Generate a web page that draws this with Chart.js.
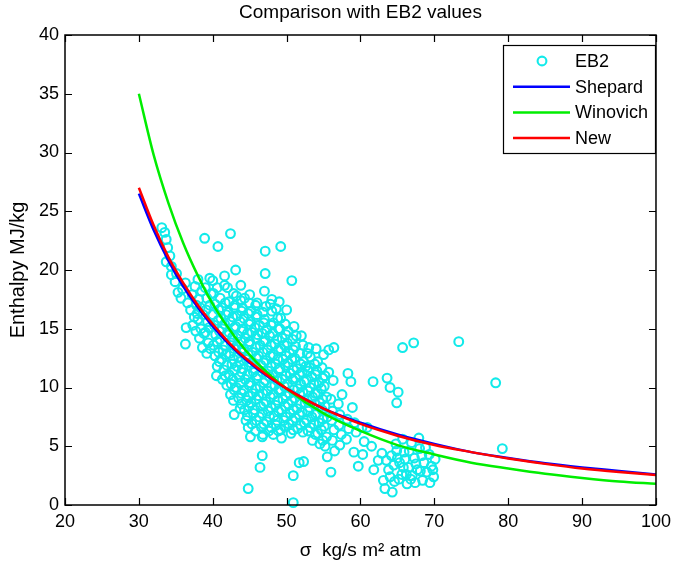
<!DOCTYPE html>
<html>
<head>
<meta charset="utf-8">
<script src="https://cdn.jsdelivr.net/npm/chart.js@4.4.0/dist/chart.umd.min.js"></script>
<style>
  html, body { margin: 0; padding: 0; background: #fff; }
  canvas { display: block; }
</style>
</head>
<body>
<canvas id="myChart-eb2" width="677" height="562"></canvas>
<script>
// curves
var sigmaCurve = [30, 32, 34, 36, 38, 40, 43, 46, 50, 55, 60, 65, 70, 75, 80, 85, 90, 95, 100];
var shepardH  = [26.5, 23.4, 20.8, 18.6, 16.8, 15.2, 13.2, 11.6, 9.9, 8.2, 7.0, 6.0, 5.2, 4.5, 4.0, 3.55, 3.2, 2.9, 2.6];
var winovichH = [35.0, 29.8, 25.7, 22.3, 19.5, 17.1, 14.3, 12.1, 9.9, 7.8, 6.3, 5.1, 4.3, 3.6, 3.1, 2.65, 2.3, 2.0, 1.8];
var newH      = [27.0, 23.8, 21.1, 18.9, 17.0, 15.4, 13.3, 11.7, 9.9, 8.2, 6.9, 5.9, 5.1, 4.5, 3.95, 3.5, 3.1, 2.8, 2.55];

// EB2 measurements [sigma, enthalpy]
var eb2Points = [
  [33.1,23.6],[33.5,23.2],[33.7,22.6],[33.9,21.9],[33.7,20.7],[34.2,21.2],[34.4,20.3],[34.4,19.6],[34.9,19.0],
  [35.1,19.7],[35.3,18.1],[35.7,17.6],[36.3,18.9],[35.9,18.4],[36.6,17.2],[36.4,15.1],[36.3,13.7],
  [37.0,16.6],[37.2,17.9],[37.5,16.0],[37.3,15.3],[37.6,18.6],[37.8,17.0],[37.9,16.3],[37.7,14.8],
  [38.0,19.2],[38.1,17.5],[38.3,16.8],[38.0,15.8],[38.4,15.0],[38.2,14.2],[38.6,13.4],[38.5,18.2],[38.7,16.2],[38.8,14.6],
  [38.9,22.7],[39.0,18.5],[39.2,17.6],[39.1,16.6],[39.3,15.6],[39.0,14.7],[39.4,13.8],[39.2,12.9],[39.6,19.3],
  [39.5,15.1],[39.7,13.3],[39.6,17.0],[39.8,18.0],
  [40.0,19.1],[40.1,18.0],[40.3,17.1],[40.0,16.2],[40.2,15.3],[40.4,14.5],[40.1,13.6],[40.3,12.7],[40.6,11.8],[40.7,22.0],
  [40.6,18.5],[40.8,16.6],[40.7,15.7],[40.9,14.8],[40.6,13.9],[40.8,13.0],[40.9,12.2],[40.5,11.0],
  [41.0,17.6],[41.2,16.8],[41.1,15.9],[41.3,15.0],[41.0,14.1],[41.4,13.2],[41.2,12.4],[41.5,11.5],[41.3,10.7],[41.6,18.7],
  [41.7,17.2],[41.8,16.2],[41.6,15.4],[41.9,14.5],[41.7,13.6],[41.8,12.8],[41.9,11.9],[41.7,11.0],[41.9,10.2],[41.6,19.5],
  [42.4,23.1],[42.0,18.5],[42.2,17.3],[42.1,16.4],[42.4,15.6],[42.2,14.7],[42.5,13.8],[42.3,12.9],[42.6,12.0],[42.2,11.1],
  [42.5,10.3],[42.4,9.4],[42.8,8.9],[42.9,7.7],
  [42.8,18.0],[42.9,16.8],[42.7,16.0],[42.9,15.1],[42.7,14.3],[42.9,13.3],[42.8,12.4],[42.9,11.5],[42.7,10.7],[42.9,9.8],
  [43.1,20.0],[43.2,17.8],[43.0,17.0],[43.3,16.1],[43.1,15.2],[43.4,14.4],[43.2,13.5],[43.5,12.6],[43.3,11.8],[43.6,10.9],
  [43.2,10.0],[43.5,9.1],[43.8,18.7],[43.7,8.2],
  [43.8,17.4],[43.9,16.5],[43.7,15.6],[43.9,14.8],[43.8,13.9],[43.9,13.0],[43.7,12.2],[43.9,11.3],[43.8,10.4],[43.9,9.5],[43.9,8.6],
  [44.0,16.8],[44.2,15.9],[44.1,15.0],[44.4,14.2],[44.2,13.3],[44.5,12.4],[44.1,11.6],[44.4,10.7],[44.2,9.8],[44.6,8.9],
  [44.3,8.1],[44.5,7.2],[44.3,17.6],
  [44.8,16.3],[44.9,15.4],[44.7,14.6],[44.9,13.7],[44.8,12.8],[44.9,11.9],[44.7,11.1],[44.9,10.2],[44.8,9.3],[44.9,8.4],
  [44.7,7.6],[44.8,6.6],[44.9,17.2],
  [45.0,17.9],[45.2,16.5],[45.1,15.6],[45.3,14.7],[45.0,13.9],[45.4,13.0],[45.2,12.1],[45.5,11.3],[45.1,10.4],[45.4,9.5],
  [45.2,8.7],[45.5,7.8],[45.3,6.9],[45.1,5.8],[44.8,1.4],
  [45.8,17.0],[45.9,16.0],[45.7,15.1],[45.9,14.2],[45.8,13.4],[45.9,12.5],[45.7,11.6],[45.9,10.8],[45.8,9.9],[45.9,9.0],
  [45.7,8.1],[45.9,7.2],[45.8,6.3],
  [46.0,16.2],[46.3,15.3],[46.1,14.5],[46.4,13.6],[46.2,12.7],[46.5,11.9],[46.1,11.0],[46.4,10.1],[46.2,9.3],[46.5,8.4],
  [46.3,7.5],[46.6,6.6],[46.7,5.8],[46.7,4.2],[46.4,3.2],[46.0,17.2],
  [46.8,16.4],[46.9,15.5],[46.7,14.6],[46.9,13.9],[46.8,13.0],[46.9,12.1],[46.7,11.3],[46.9,10.4],[46.8,9.5],[46.9,8.6],
  [46.7,7.8],[46.9,6.9],[46.8,6.0],
  [47.1,21.6],[47.1,19.7],[47.0,18.2],[47.2,16.9],[47.0,15.8],[47.3,14.9],[47.1,14.0],[47.4,13.2],[47.2,12.3],[47.5,11.4],
  [47.1,10.6],[47.4,9.7],[47.2,8.8],[47.5,8.0],[47.3,7.1],[47.6,6.3],
  [47.8,17.1],[47.9,15.3],[47.7,14.4],[47.9,13.6],[47.8,12.7],[47.9,11.8],[47.7,10.9],[47.9,10.1],[47.8,9.2],[47.9,8.3],
  [47.7,7.5],[47.9,6.6],
  [48.0,17.5],[48.0,16.5],[48.2,15.5],[48.1,14.6],[48.4,13.7],[48.2,12.8],[48.5,12.0],[48.1,11.1],[48.4,10.2],[48.2,9.4],
  [48.5,8.5],[48.3,7.6],[48.6,6.8],[48.2,6.0],[48.6,16.7],
  [48.8,15.9],[48.9,15.0],[48.7,14.1],[48.9,13.2],[48.8,12.4],[48.9,11.5],[48.7,10.6],[48.9,9.8],[48.8,8.9],[48.9,8.0],
  [48.7,7.2],[48.9,6.3],
  [49.2,22.0],[49.0,17.3],[49.2,15.9],[49.1,15.0],[49.4,14.2],[49.2,13.3],[49.5,12.4],[49.1,11.6],[49.4,10.7],[49.2,9.8],
  [49.5,9.0],[49.3,8.1],[49.6,7.2],[49.2,6.4],[49.3,5.7],
  [49.8,15.4],[49.9,14.5],[49.7,13.6],[49.9,12.7],[49.8,11.9],[49.9,11.0],[49.7,10.1],[49.9,9.3],[49.8,8.4],[49.9,7.5],[49.7,6.7],
  [50.0,16.6],[50.2,14.8],[50.1,13.8],[50.4,12.9],[50.2,12.1],[50.5,11.2],[50.1,10.3],[50.4,9.5],[50.2,8.6],[50.5,7.8],
  [50.3,6.9],[50.6,6.1],[50.7,19.1],
  [50.8,14.1],[50.9,13.2],[50.7,12.4],[50.9,11.5],[50.8,10.7],[50.9,9.8],[50.7,8.9],[50.9,8.1],[50.8,7.2],[50.9,6.4],
  [51.0,15.2],[51.2,13.5],[51.1,12.5],[51.4,11.6],[51.2,10.8],[51.5,9.9],[51.1,9.1],[51.4,8.2],[51.2,7.4],[51.5,6.5],
  [50.9,2.5],[50.9,0.2],[51.7,3.6],[51.3,14.4],
  [51.8,12.9],[51.9,12.0],[51.7,11.1],[51.9,10.3],[51.8,9.4],[51.9,8.6],[51.7,7.7],[51.9,6.8],
  [52.0,14.4],[52.2,13.6],[52.3,12.2],[52.1,11.3],[52.4,10.5],[52.2,9.6],[52.5,8.7],[52.1,7.9],[52.4,7.0],[52.2,6.2],
  [52.3,3.7],[52.6,11.8],
  [52.8,12.9],[52.9,11.4],[52.7,10.6],[52.9,9.7],[52.8,8.9],[52.9,8.0],[52.7,7.2],[52.9,6.3],
  [53.0,13.4],[53.2,12.6],[53.1,11.7],[53.4,10.9],[53.2,10.0],[53.5,9.2],[53.1,8.3],[53.4,7.5],[53.2,6.6],[53.5,5.5],
  [53.8,12.0],[53.9,11.1],[53.7,10.3],[53.9,9.5],[53.8,8.6],[53.9,7.7],[53.7,6.9],[53.9,6.0],
  [54.0,13.3],[54.2,12.2],[54.1,11.4],[54.4,10.4],[54.2,9.5],[54.5,8.7],[54.1,7.8],[54.4,7.0],[54.2,6.1],[54.5,5.2],
  [54.8,11.7],[54.9,10.8],[54.7,9.9],[54.9,9.0],[54.8,8.1],[54.9,7.3],[54.7,6.4],[54.9,5.5],
  [55.0,12.8],[55.7,13.2],[55.7,11.3],[55.2,11.0],[55.1,10.1],[55.4,9.2],[55.2,8.4],[55.5,7.5],[55.1,6.7],[55.4,5.8],
  [55.2,5.0],[55.5,4.1],
  [56.4,13.4],[56.3,10.6],[56.0,9.0],[56.2,8.0],[56.1,7.2],[56.4,6.4],[56.2,5.5],[56.5,4.6],[56.0,2.8],
  [57.0,8.6],[57.2,7.7],[57.1,6.8],[57.4,6.0],[57.2,5.1],[57.5,9.4],
  [58.3,11.2],[58.7,10.5],[58.9,8.3],[58.2,7.3],[58.4,6.5],[58.1,5.6],
  [59.2,7.0],[59.4,6.2],[59.1,4.5],[59.7,3.3],[60.2,6.6],[60.5,5.4],[60.3,4.3],[60.9,6.6],[61.7,10.5],[63.6,10.8],
  [64.0,10.0],[65.1,9.6],[64.9,8.7],[61.5,5.0],[62.4,3.8],[61.8,3.0],[62.9,4.4],
  [63.1,2.1],[63.3,1.4],[64.3,1.1],[63.8,3.0],[64.2,4.2],[64.8,5.2],[65.3,3.6],[65.6,2.6],[65.9,4.5],[66.3,1.8],
  [66.5,3.2],[66.9,5.3],[67.0,2.5],[67.3,4.0],[67.7,3.0],[68.0,4.8],[68.4,2.1],[68.6,3.6],[69.0,2.8],[69.3,4.3],
  [69.6,3.3],[69.9,2.4],[70.1,3.9],[65.0,4.0],[66.0,3.9],[67.5,3.5],[68.3,4.2],[64.5,3.4],[65.2,2.2],[66.8,2.2],
  [69.4,1.9],[64.0,2.4],[65.7,5.6],[67.9,5.7],
  [63.5,3.8],[64.6,2.0],[65.8,3.2],[66.6,4.6],[67.4,1.9],[68.8,4.9],[69.8,3.0],[68.1,2.9],[66.2,2.6],[64.9,4.6],
  [65.7,13.4],[67.2,13.8],[73.3,13.9],[78.3,10.4],[79.2,4.8]
];

var FONT = '"Liberation Sans", Arial, sans-serif';
var cyan = '#12eaea';

function curve(ys) {
  return sigmaCurve.map(function (s, i) { return { x: s, y: ys[i] }; });
}

// box, inward ticks, title and legend like the matlab figure
var figurePlugin = {
  id: 'figure',
  afterDraw: function (chart) {
    var ctx = chart.ctx, a = chart.chartArea;
    var xs = chart.scales.x, ys = chart.scales.y;
    ctx.save();
    ctx.strokeStyle = '#000';
    ctx.lineWidth = 1.5;
    ctx.strokeRect(a.left, a.top, a.right - a.left, a.bottom - a.top);

    var tl = 7;
    ctx.lineWidth = 1.2;
    ctx.beginPath();
    xs.ticks.forEach(function (t) {
      var px = Math.round(xs.getPixelForValue(t.value)) + 0.5;
      ctx.moveTo(px, a.bottom); ctx.lineTo(px, a.bottom - tl);
      ctx.moveTo(px, a.top); ctx.lineTo(px, a.top + tl);
    });
    ys.ticks.forEach(function (t) {
      var py = Math.round(ys.getPixelForValue(t.value)) + 0.5;
      ctx.moveTo(a.left, py); ctx.lineTo(a.left + tl, py);
      ctx.moveTo(a.right, py); ctx.lineTo(a.right - tl, py);
    });
    ctx.stroke();

    // title
    ctx.fillStyle = '#000';
    ctx.font = '19px ' + FONT;
    ctx.textAlign = 'center';
    ctx.textBaseline = 'middle';
    ctx.fillText('Comparison with EB2 values', (a.left + a.right) / 2, 13);

    // legend
    var lx = 503, ly = 45, lw = 152, lh = 108;
    ctx.fillStyle = '#fff';
    ctx.fillRect(lx, ly, lw, lh);
    ctx.strokeStyle = '#000';
    ctx.lineWidth = 1.2;
    ctx.strokeRect(lx + 0.5, ly + 0.5, lw, lh);
    ctx.textAlign = 'left';
    ctx.font = '18px ' + FONT;
    chart.data.datasets.forEach(function (ds, i) {
      var y = ly + 16 + i * 25.7;
      if (ds.showLine) {
        ctx.strokeStyle = ds.borderColor;
        ctx.lineWidth = 2.5;
        ctx.beginPath();
        ctx.moveTo(513, y); ctx.lineTo(570, y);
        ctx.stroke();
      } else {
        ctx.strokeStyle = ds.pointBorderColor;
        ctx.lineWidth = ds.pointBorderWidth;
        ctx.beginPath();
        ctx.arc(542, y, ds.pointRadius, 0, Math.PI * 2);
        ctx.stroke();
      }
      ctx.fillStyle = '#000';
      ctx.fillText(ds.label, 575, y + 1);
    });
    ctx.restore();
  }
};

var canvasEb2 = document.getElementById('myChart-eb2');
new Chart(canvasEb2, {
  type: 'scatter',
  data: {
    datasets: [
      {
        label: 'EB2',
        data: eb2Points.map(function (p) { return { x: p[0], y: p[1] }; }),
        pointStyle: 'circle',
        pointRadius: 4.4,
        pointBorderWidth: 2.1,
        pointBorderColor: cyan,
        pointBackgroundColor: 'rgba(0,0,0,0)',
        borderColor: cyan,
        showLine: false,
        clip: false,
        order: 4
      },
      {
        label: 'Shepard',
        data: curve(shepardH),
        showLine: true,
        borderColor: '#0000ff',
        borderWidth: 2.5,
        pointRadius: 0,
        cubicInterpolationMode: 'monotone',
        order: 3
      },
      {
        label: 'Winovich',
        data: curve(winovichH),
        showLine: true,
        borderColor: '#00ee00',
        borderWidth: 2.5,
        pointRadius: 0,
        cubicInterpolationMode: 'monotone',
        order: 2
      },
      {
        label: 'New',
        data: curve(newH),
        showLine: true,
        borderColor: '#ff0000',
        borderWidth: 2.5,
        pointRadius: 0,
        cubicInterpolationMode: 'monotone',
        order: 1
      }
    ]
  },
  options: {
    responsive: false,
    animation: false,
    layout: { padding: { top: 35, right: 12, left: 0, bottom: 0 } },
    plugins: {
      legend: { display: false },
      tooltip: { enabled: false },
      title: { display: false }
    },
    scales: {
      x: {
        type: 'linear',
        min: 20,
        max: 100,
        ticks: { stepSize: 10, color: '#000', font: { family: FONT, size: 18 }, padding: 6, maxRotation: 0 },
        grid: { display: false, drawTicks: false },
        border: { display: false },
        title: { display: true, text: 'σ  kg/s m² atm', color: '#000', font: { family: FONT, size: 19 }, padding: { top: 0, bottom: 0 } },
        afterFit: function (scale) { scale.height = 57; }
      },
      y: {
        min: 0,
        max: 40,
        ticks: { stepSize: 5, color: '#000', font: { family: FONT, size: 18 }, padding: 6 },
        grid: { display: false, drawTicks: false },
        border: { display: false },
        title: { display: true, text: 'Enthalpy MJ/kg', color: '#000', font: { family: FONT, size: 20 }, padding: { top: 6, bottom: 0 } },
        afterFit: function (scale) { scale.width = 65; }
      }
    }
  },
  plugins: [figurePlugin]
});
</script>
</body>
</html>
